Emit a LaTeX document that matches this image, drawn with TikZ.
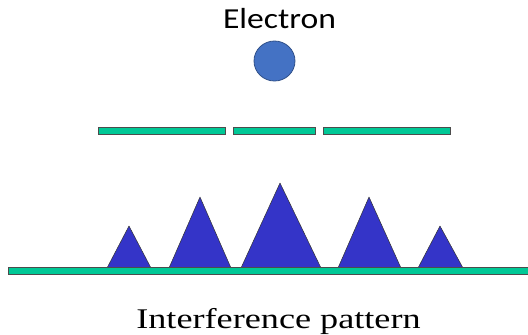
\documentclass[tikz,border=0pt]{standalone}
\usepackage{fontspec}
\setmainfont{Liberation Serif}
\newfontfamily\calfont{Carlito}
\usepackage{xcolor}
\usetikzlibrary{positioning,shapes.geometric}
\definecolor{slitgreen}{HTML}{00C896}
\definecolor{peakblue}{HTML}{3434C8}
\definecolor{elecblue}{HTML}{4472C4}
\begin{document}
\begin{tikzpicture}[x=1pt,y=-1pt,
          bar/.style={draw=black!70,fill=slitgreen,line width=0.6pt},
          peak/.style={draw=black!80,fill=peakblue,line width=0.5pt,line join=round},
          elec/.style={ellipse,draw=elecblue!70!black,fill=elecblue,line width=0.8pt,minimum width=41pt,minimum height=40pt,inner sep=0pt}]
        \useasboundingbox (0,0) rectangle (528,335);
        \node[font=\calfont\fontsize{29}{33}\selectfont,xscale=1.16,anchor=base,inner sep=0pt] (title) at (279.5,28.5) {Electron};
        \node[elec] (e) at (274.5,61) {};
        % the three slits
        \draw[bar] (98,127) rectangle (225,134);
        \draw[bar] (233,127) rectangle (315,134);
        \draw[bar] (323,127) rectangle (450,134);
        % peaks
        \foreach \l/\m/\r/\h in {107/129/151/226, 169/200/231/197, 241/280/321/183, 338/369/401/197, 418/440/463/226}
          \draw[peak] (\l,268) -- (\m,\h) -- (\r,268) -- cycle;
        % screen
        \draw[bar] (8,267) rectangle (528,274);
        \node[font=\fontsize{28.5}{32}\selectfont,xscale=1.27,anchor=base,inner sep=0pt] (lbl) at (278.5,328.5) {Interference pattern};
\end{tikzpicture}
\end{document}
